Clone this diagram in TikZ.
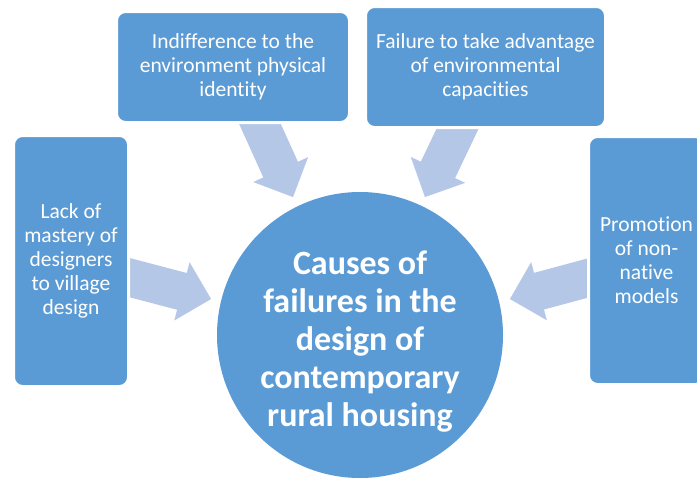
\documentclass[tikz,border=0pt]{standalone}
\usepackage{fontspec}
\setmainfont{Carlito}[Ligatures=NoCommon]
\usetikzlibrary{arrows.meta,backgrounds}
\definecolor{boxblue}{HTML}{5B9BD5}
\definecolor{arrowblue}{HTML}{B4C7E7}

\begin{document}
\begin{tikzpicture}[
    x=1pt, y=-1pt,
    causebox/.style={fill=boxblue, draw=white, line width=3pt, rounded corners=9pt, text=white,
      align=center, inner sep=0pt, font=\fontsize{21.5}{24}\selectfont},
    hub/.style={circle, fill=boxblue, text=white, align=center, inner sep=0pt,
      minimum size=286pt, font=\bfseries\fontsize{34}{38}\selectfont},
    bigarr/.style={draw=arrowblue, line width=38pt, shorten >=29pt,
      postaction={draw=arrowblue, line width=0.2pt, shorten >=0pt,
        -{Triangle[length=30pt, width=60pt]}}}
  ]
  \useasboundingbox (0,0) rectangle (697,480);

  % centre
  \node[hub] (hub) at (360,335)
    {\rule{0pt}{37pt}Causes of\\failures in the\\design of\\contemporary\\rural housing};

  % causes
  \node[causebox, minimum width=115pt, minimum height=251pt] (mastery) at (71,261)
    {Lack of\\mastery of\\designers\\to village\\design};
  \node[causebox, minimum width=233pt, minimum height=111pt] (identity) at (233,67)
    {Indifference to the\\environment physical\\identity};
  \node[causebox, minimum width=240pt, minimum height=121pt] (capacity) at (485.5,67)
    {Failure to take advantage\\of environmental\\capacities};
  \node[causebox, minimum width=116pt, minimum height=248pt] (models) at (646.5,260.5)
    {Promotion\\of non-\\native\\models};

  % arrow ends
  \coordinate (mastery-out) at (120.3,275.2);
  \coordinate (mastery-in) at (211,299);
  \coordinate (identity-out) at (254.2,111.2);
  \coordinate (identity-in) at (293,197);
  \coordinate (capacity-out) at (462.8,117.8);
  \coordinate (capacity-in) at (425,197);
  \coordinate (models-out) at (596.9,275.6);
  \coordinate (models-in) at (510,299);

  \begin{scope}[on background layer]
    \foreach \c in {mastery,identity,capacity,models}
      \draw[bigarr] (\c-out) -- (\c-in);
  \end{scope}
\end{tikzpicture}
\end{document}
